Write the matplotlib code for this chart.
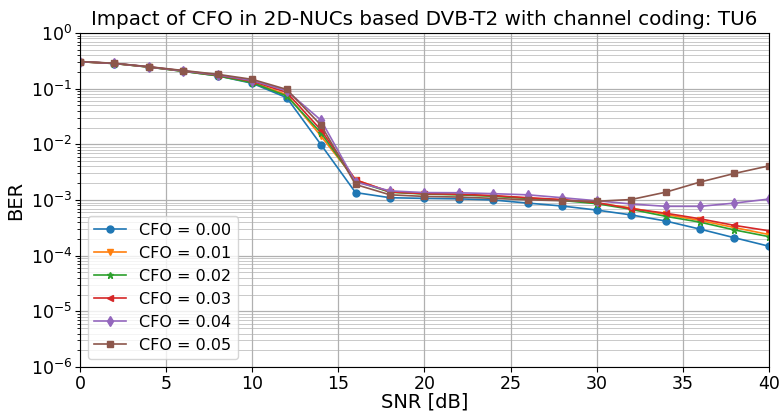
import matplotlib
matplotlib.use("Agg")
import matplotlib.pyplot as plt
from matplotlib.ticker import LogLocator, NullFormatter
import numpy as np

snr = [0, 2, 4, 6, 8, 10, 12, 14, 16, 18, 20, 22, 24, 26, 28, 30, 32, 34, 36, 38, 40]

ber_000 = [0.305, 0.283, 0.245, 0.205, 0.170, 0.125, 0.069, 0.0098, 0.00136, 0.00110, 0.00107, 0.00105, 0.00100,
           0.00088, 0.00078, 0.00066, 0.00054, 0.00042, 0.00030, 0.00021, 0.000148]
ber_001 = [0.305, 0.283, 0.245, 0.206, 0.172, 0.130, 0.078, 0.014, 0.0023, 0.00140, 0.00130, 0.00125, 0.00118,
           0.00108, 0.00100, 0.00088, 0.00072, 0.00055, 0.00043, 0.00032, 0.00024]
ber_002 = [0.305, 0.283, 0.244, 0.205, 0.170, 0.128, 0.074, 0.016, 0.0022, 0.00138, 0.00128, 0.00124, 0.00117,
           0.00107, 0.00098, 0.00086, 0.00068, 0.00051, 0.00040, 0.00029, 0.00022]
ber_003 = [0.305, 0.284, 0.246, 0.208, 0.175, 0.136, 0.086, 0.018, 0.0023, 0.00140, 0.00130, 0.00127, 0.00120,
           0.00110, 0.00102, 0.00090, 0.00070, 0.00058, 0.00046, 0.00035, 0.00028]
ber_004 = [0.306, 0.285, 0.247, 0.209, 0.177, 0.140, 0.092, 0.027, 0.0021, 0.00146, 0.00136, 0.00135, 0.00130,
           0.00124, 0.00110, 0.00097, 0.00085, 0.00077, 0.00077, 0.00088, 0.00104]
ber_005 = [0.307, 0.286, 0.248, 0.212, 0.181, 0.147, 0.097, 0.022, 0.0019, 0.00124, 0.00116, 0.00113, 0.00107,
           0.00101, 0.00097, 0.00095, 0.00102, 0.00138, 0.0021, 0.0030, 0.0041]

labels = ["CFO = 0.00", "CFO = 0.01", "CFO = 0.02", "CFO = 0.03", "CFO = 0.04", "CFO = 0.05"]
series = [ber_000, ber_001, ber_002, ber_003, ber_004, ber_005]
markers = ["o", "v", "*", "<", "d", "s"]
xticks = [0, 5, 10, 15, 20, 25, 30, 35, 40]
yticks = [1e-6, 1e-5, 1e-4, 1e-3, 1e-2, 1e-1, 1e0]

fig = plt.figure(figsize=(7.79, 4.11), dpi=100)
ax = fig.add_axes([0.1027, 0.107, 0.8843, 0.8127])

for ys, lab, m in zip(series, labels, markers):
    ax.semilogy(snr, ys, marker=m, label=lab, linewidth=1.2, markersize=5)

ax.set_xlim(0, 40)
ax.set_ylim(1e-6, 1)
ax.set_xticks(xticks)
ax.set_yticks(yticks)
ax.yaxis.set_minor_locator(LogLocator(base=10, subs=np.arange(2, 10), numticks=20))
ax.yaxis.set_minor_formatter(NullFormatter())
ax.grid(True, which="major", color="#b0b0b0", linewidth=0.9)
ax.grid(True, which="minor", color="#b0b0b0", linewidth=0.6, alpha=0.8)
ax.tick_params(axis="both", which="major", labelsize=12.5, length=3.5, pad=2)
ax.tick_params(axis="both", which="minor", length=2)
ax.set_xlabel("SNR [dB]", fontsize=14, labelpad=0)
ax.set_ylabel("BER", fontsize=14, labelpad=4)
ax.set_title("Impact of CFO in 2D-NUCs based DVB-T2 with channel coding: TU6", fontsize=14.3)
ax.legend(loc="lower left", fontsize=11.5, framealpha=0.8)

fig.savefig("out.png", dpi=100)
